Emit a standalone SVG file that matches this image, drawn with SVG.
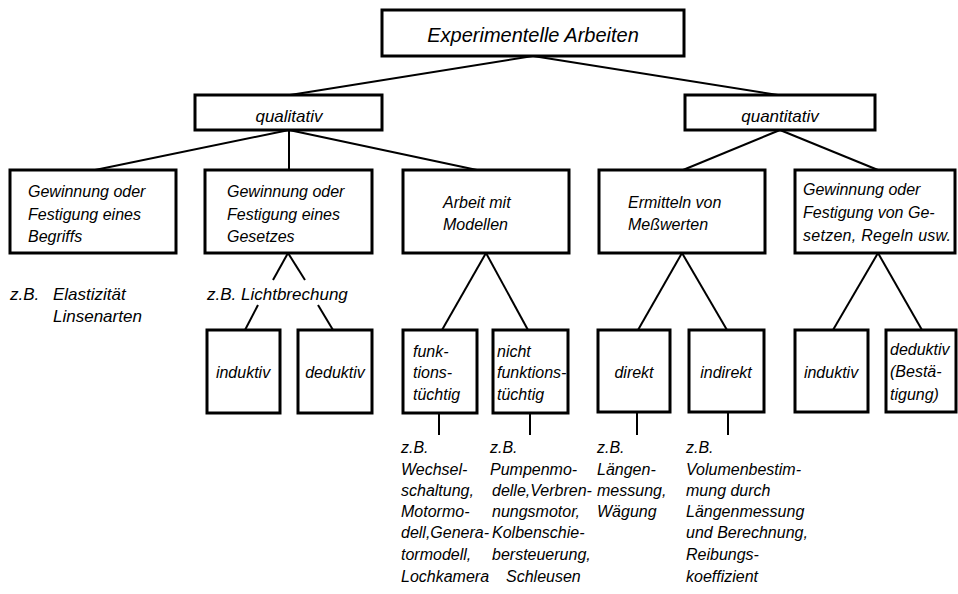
<svg xmlns="http://www.w3.org/2000/svg" width="958" height="594" viewBox="0 0 958 594">
<style>
.box{fill:#fff;stroke:#000;stroke-width:3}
.con line{stroke:#000;stroke-width:2;fill:none}
text{font-family:"Liberation Sans",Arial,sans-serif;font-style:italic;font-size:16px;fill:#000}
.c{text-anchor:middle}
.big{font-size:20px}
.mid{font-size:17px}
</style>
<rect width="958" height="594" fill="#fff"/>
<g id="connectors" class="con">
<line x1="533" y1="56" x2="290" y2="95"/>
<line x1="533" y1="56" x2="778" y2="95"/>
<line x1="289" y1="130" x2="95" y2="170"/>
<line x1="289" y1="130" x2="289" y2="170"/>
<line x1="289" y1="130" x2="477" y2="170"/>
<line x1="780" y1="130" x2="683" y2="170"/>
<line x1="780" y1="130" x2="878" y2="170"/>
<line x1="288" y1="253" x2="273" y2="280"/>
<line x1="288" y1="253" x2="305" y2="280"/>
<line x1="258" y1="305" x2="245" y2="330"/>
<line x1="318" y1="305" x2="333" y2="330"/>
<line x1="486" y1="253" x2="442" y2="330"/>
<line x1="486" y1="253" x2="528" y2="330"/>
<line x1="682" y1="253" x2="638" y2="330"/>
<line x1="682" y1="253" x2="727" y2="330"/>
<line x1="878" y1="253" x2="833" y2="330"/>
<line x1="878" y1="253" x2="922" y2="330"/>
<line x1="439" y1="413" x2="439" y2="435"/>
<line x1="530" y1="413" x2="530" y2="435"/>
<line x1="637" y1="412" x2="637" y2="435"/>
<line x1="728" y1="412" x2="728" y2="435"/>
</g>
<g id="root"><rect class="box" x="382" y="10" width="302" height="46"/><text class="c big" x="533" y="42">Experimentelle  Arbeiten</text></g>
<g id="qualitativ"><rect class="box" x="195" y="95" width="187" height="35"/><text class="c mid" x="289" y="122">qualitativ</text></g>
<g id="quantitativ"><rect class="box" x="685" y="95" width="190" height="35"/><text class="c mid" x="780" y="122">quantitativ</text></g>
<g id="begriff"><rect class="box" x="10" y="170" width="166" height="83"/><text x="28" y="197">Gewinnung oder</text><text x="28" y="220">Festigung eines</text><text x="28" y="242">Begriffs</text></g>
<g id="gesetz"><rect class="box" x="205" y="170" width="167" height="83"/><text x="227" y="197">Gewinnung oder</text><text x="227" y="220">Festigung eines</text><text x="227" y="242">Gesetzes</text></g>
<g id="modelle"><rect class="box" x="403" y="170" width="166" height="83"/><text x="443" y="208">Arbeit mit</text><text x="443" y="230">Modellen</text></g>
<g id="messwerte"><rect class="box" x="599" y="170" width="166" height="83"/><text x="628" y="208">Ermitteln von</text><text x="628" y="230">Meßwerten</text></g>
<g id="gesetze-regeln"><rect class="box" x="795" y="170" width="160" height="83"/><text x="803" y="195">Gewinnung oder</text><text x="803" y="218">Festigung von Ge-</text><text x="803" y="241" textLength="148" lengthAdjust="spacing">setzen, Regeln usw.</text></g>
<g id="bsp-begriff"><text class="mid" x="10" y="300">z.B.</text><text class="mid" x="53" y="300">Elastizität</text><text class="mid" x="53" y="322">Linsenarten</text></g>
<g id="bsp-gesetz"><text class="mid" x="207" y="300">z.B. Lichtbrechung</text></g>
<g id="induktiv1"><rect class="box" x="207" y="330" width="73" height="83"/><text class="c" x="243" y="378">induktiv</text></g>
<g id="deduktiv1"><rect class="box" x="298" y="330" width="74" height="83"/><text class="c" x="335" y="378">deduktiv</text></g>
<g id="funktionstuechtig"><rect class="box" x="403" y="330" width="74" height="83"/><text x="413" y="357">funk-</text><text x="413" y="378">tions-</text><text x="413" y="400">tüchtig</text></g>
<g id="nicht-funktionstuechtig"><rect class="box" x="493" y="330" width="75" height="83"/><text x="497" y="357">nicht</text><text x="497" y="378">funktions-</text><text x="497" y="400">tüchtig</text></g>
<g id="direkt"><rect class="box" x="598" y="330" width="72" height="82"/><text class="c" x="634" y="378">direkt</text></g>
<g id="indirekt"><rect class="box" x="689" y="330" width="75" height="82"/><text class="c" x="726" y="378">indirekt</text></g>
<g id="induktiv2"><rect class="box" x="795" y="330" width="73" height="82"/><text class="c" x="831" y="378">induktiv</text></g>
<g id="deduktiv2"><rect class="box" x="886" y="330" width="70" height="82"/><text x="890" y="355">deduktiv</text><text x="890" y="377">(Bestä-</text><text x="890" y="400">tigung)</text></g>
<g id="bsp-funk"><text x="401" y="453">z.B.</text><text x="401" y="475">Wechsel-</text><text x="401" y="496">schaltung,</text><text x="401" y="517">Motormo-</text><text x="401" y="538">dell,Genera-</text><text x="401" y="560">tormodell,</text><text x="401" y="582">Lochkamera</text></g>
<g id="bsp-nicht"><text x="490" y="453">z.B.</text><text x="490" y="475">Pumpenmo-</text><text x="492" y="496">delle,Verbren-</text><text x="492" y="517">nungsmotor,</text><text x="492" y="538">Kolbenschie-</text><text x="492" y="560">bersteuerung,</text><text x="506" y="582">Schleusen</text></g>
<g id="bsp-direkt"><text x="597" y="453">z.B.</text><text x="597" y="475">Längen-</text><text x="597" y="496">messung,</text><text x="597" y="517">Wägung</text></g>
<g id="bsp-indirekt"><text x="686" y="453">z.B.</text><text x="686" y="475">Volumenbestim-</text><text x="686" y="496">mung durch</text><text x="686" y="517">Längenmessung</text><text x="686" y="538">und Berechnung,</text><text x="686" y="560">Reibungs-</text><text x="686" y="582">koeffizient</text></g>
</svg>
